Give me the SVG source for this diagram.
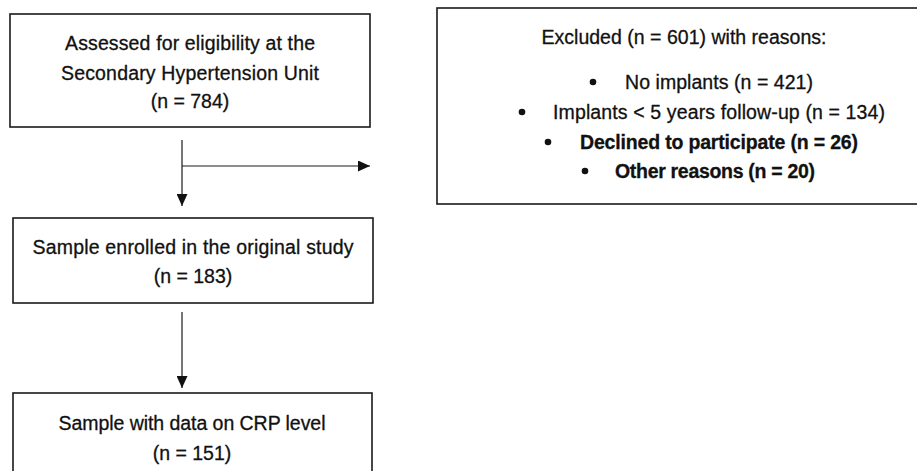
<svg xmlns="http://www.w3.org/2000/svg" width="917" height="471" viewBox="0 0 917 471">
<style>
.box{fill:#fff;stroke:#1a1a1a;stroke-width:1.6}
.t{font-family:"Liberation Sans",Arial,sans-serif;font-size:19.5px;fill:#111;stroke:#111;stroke-width:0.3}
.c{text-anchor:middle}
.b{font-weight:bold}
.ln{stroke:#1a1a1a;stroke-width:1.2;fill:none}
</style>
<defs>
<marker id="ah" viewBox="0 0 12 11" refX="12" refY="5.5" markerWidth="12" markerHeight="11" markerUnits="userSpaceOnUse" orient="auto">
<path d="M0,0 L12,5.5 L0,11 Z" fill="#111"/>
</marker>
</defs>
<rect width="917" height="471" fill="#fff"/>
<g id="n1">
<rect class="box" x="10" y="14" width="360" height="113"/>
<text class="t c" x="190" y="50" textLength="250">Assessed for eligibility at the</text>
<text class="t c" x="190" y="80" textLength="258">Secondary Hypertension Unit</text>
<text class="t c" x="190" y="108">(n = 784)</text>
</g>
<g id="n2">
<rect class="box" x="437" y="8" width="500" height="196"/>
<text class="t c" x="684" y="44" textLength="285">Excluded (n = 601) with reasons:</text>
<circle cx="593" cy="82" r="3.3" fill="#111"/>
<text class="t" x="625" y="89" textLength="188">No implants (n = 421)</text>
<circle cx="522" cy="112" r="3.3" fill="#111"/>
<text class="t" x="553" y="119" textLength="332">Implants &lt; 5 years follow-up (n = 134)</text>
<circle cx="548" cy="142" r="3.3" fill="#111"/>
<text class="t b" x="580" y="149" textLength="278">Declined to participate (n = 26)</text>
<circle cx="585" cy="171" r="3.3" fill="#111"/>
<text class="t b" x="615" y="178" textLength="200">Other reasons (n = 20)</text>
</g>
<g id="n3">
<rect class="box" x="13" y="218" width="360" height="85"/>
<text class="t c" x="193" y="254" textLength="321">Sample enrolled in the original study</text>
<text class="t c" x="193" y="283">(n = 183)</text>
</g>
<g id="n4">
<rect class="box" x="13" y="393" width="359" height="100"/>
<text class="t c" x="192" y="430" textLength="267">Sample with data on CRP level</text>
<text class="t c" x="192" y="460">(n = 151)</text>
</g>
<g id="connectors">
<line class="ln" x1="182" y1="140" x2="182" y2="206" marker-end="url(#ah)"/>
<line class="ln" x1="182" y1="166" x2="370" y2="166" marker-end="url(#ah)"/>
<line class="ln" x1="182" y1="312" x2="182" y2="388" marker-end="url(#ah)"/>
</g>
</svg>
